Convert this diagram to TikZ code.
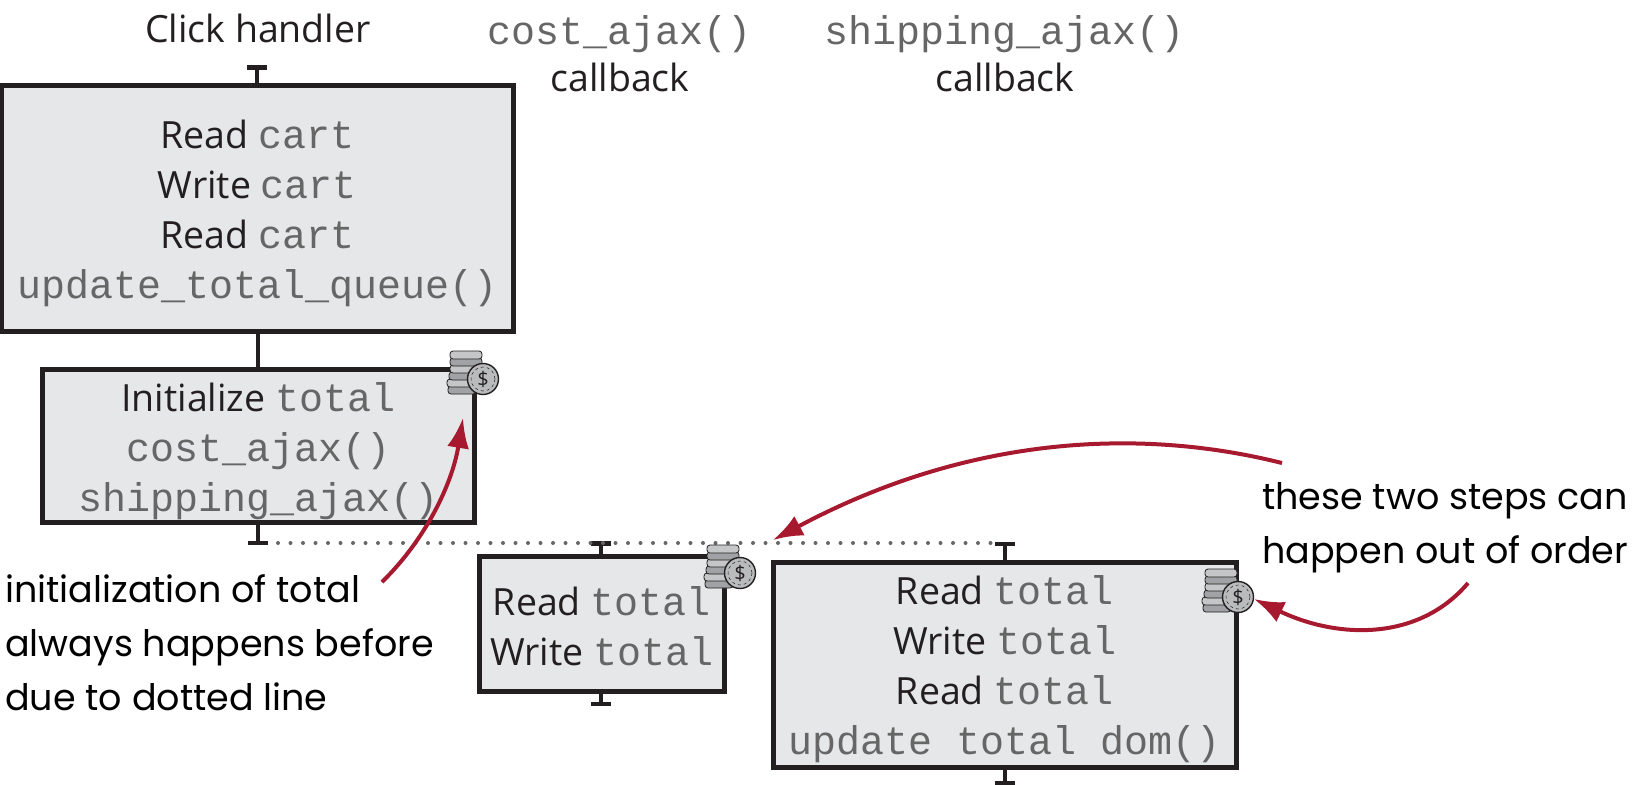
\documentclass[tikz,border=0pt]{standalone}
\usepackage{fontspec}
\setmainfont{Open Sans}
\newfontfamily\mono{Liberation Mono}
\newfontfamily\hand{Poppins}
\usetikzlibrary{arrows.meta}
\definecolor{boxfill}{HTML}{E6E7E8}
\definecolor{ink}{HTML}{231F20}
\definecolor{codegrey}{HTML}{666666}
\definecolor{redarrow}{HTML}{A6192E}
\definecolor{coinA}{HTML}{A0A2A5}
\definecolor{coinB}{HTML}{C4C6C8}
\newcommand{\cd}[1]{{\mono\color{codegrey}\fontsize{40}{50}\selectfont #1}}
\tikzset{
  x=1pt,y=-1pt,
  blockbox/.style={draw=ink,fill=boxfill,line width=4.5pt,inner sep=0pt,anchor=north west},
  blocktext/.style={inner sep=0pt,align=center,text=ink,font=\fontsize{37.5}{50}\selectfont},
  head/.style={text=ink,font=\fontsize{37.5}{47}\selectfont,align=center,inner sep=0pt},
  note/.style={text=black,font=\hand\fontsize{36.5}{54}\selectfont,align=left,inner sep=0pt,anchor=north west},
  tbar/.style={draw=ink,line width=4.5pt,-{Bar[width=20pt,line width=4.5pt,length=0pt]}},
  link/.style={draw=ink,line width=4.5pt},
  dotline/.style={draw=codegrey,line width=4pt,line cap=round,dash pattern=on 0pt off 12.5pt},
  callout/.style={draw=redarrow,line width=4pt,-{Latex[length=30pt,width=22pt]}},
  pics/coins/.style={code={
    \begin{scope}[draw=ink,line width=.8pt]
      \foreach \yy/\xx/\ww/\ff in {7/-21/28/coinA,0/-21/30/coinB,-7/-20/28/coinA,-14/-17/32/coinB,-21/-17/32/coinA,-28/-17/32/coinB}{
        \filldraw[fill=\ff,rounded corners=3pt] (\xx-\ww/2,\yy) rectangle ++(\ww,8);
      }
      \filldraw[fill=coinB!70!coinA,line width=1.4pt] (0,0) circle (15.5pt);
      \draw[dashed,line width=.5pt] (0,0) circle (12pt);
      \node[font=\fontsize{20}{20}\selectfont,text=ink,inner sep=0pt] at (0,0) {\$};
    \end{scope}
  }},
}
\begin{document}
\begin{tikzpicture}
\useasboundingbox (0,0) rectangle (1640,784);
% column heads
\node[head] (h1) at (258,28) {Click handler};
\node[head] (h2) at (620,54) {\cd{cost\_ajax()}\\callback};
\node[head] (h3) at (1005,54) {\cd{shipping\_ajax()}\\callback};
% boxes
\node[blockbox,minimum width=512pt,minimum height=246pt] (b1) at (-1,83) {};
\node[blockbox,minimum width=432pt,minimum height=153pt] (b2) at (40,367) {};
\node[blockbox,minimum width=245pt,minimum height=135pt] (b3) at (477,554) {};
\node[blockbox,minimum width=463pt,minimum height=205pt] (b4) at (771,560) {};
\node[blocktext,yshift=-5pt] (b1t) at (b1.center) {Read \cd{cart}\\Write \cd{cart}\\Read \cd{cart}\\\cd{update\_total\_queue()}};
\node[blocktext,yshift=-5pt] (b2t) at (b2.center) {Initialize \cd{total}\\\cd{cost\_ajax()}\\\cd{shipping\_ajax()}};
\node[blocktext,yshift=-2pt] (b3t) at (b3.center) {Read \cd{total}\\Write \cd{total}};
\node[blocktext,yshift=-4.5pt] (b4t) at (b4.center) {Read \cd{total}\\Write \cd{total}\\Read \cd{total}\\\cd{update total dom()}};
% T ends
\coordinate (t1) at (257,65);
\coordinate (t2) at (258,545);
\coordinate (t3) at (601,541);
\coordinate (t3b) at (601,706);
\coordinate (t4) at (1005,541.5);
\coordinate (t4b) at (1005,785);
\coordinate (dotend) at (1000,543);
\coordinate (dotstart) at (278,543);
\draw[tbar] (b1.north -| t1) -- (t1);
\draw[link] (b1.south -| t2) -- (b2.north -| t2);
\draw[tbar] (b2.south -| t2) -- (t2);
\draw[tbar] (b3.north -| t3) -- (t3);
\draw[tbar] (b3.south -| t3b) -- (t3b);
\draw[tbar] (b4.north -| t4) -- (t4);
\draw[tbar] (b4.south -| t4b) -- (t4b);
\draw[dotline] (dotstart) -- (dotend);
% coins
\pic at (483,379) {coins};
\pic at (740,573) {coins};
\pic at (1238,597) {coins};
% notes
\node[note] (n1) at (5,574.5) {initialization of total\\always happens before\\due to dotted line};
\node[note] (n2) at (1262,482) {these two steps can\\happen out of order};
% callouts
\coordinate (a1s) at (382,582);
\coordinate (a1e) at (463,418);
\coordinate (a2s) at (1282,463);
\coordinate (a2e) at (773,540);
\coordinate (a3s) at (1468,583);
\coordinate (a3e) at (1254,599);
\draw[callout] (a1s) .. controls (425,540) and (452,485) .. (a1e);
\draw[callout] (a2s) .. controls (1130,425) and (960,440) .. (a2e);
\draw[callout] (a3s) .. controls (1420,640) and (1340,640) .. (a3e);
\end{tikzpicture}
\end{document}
